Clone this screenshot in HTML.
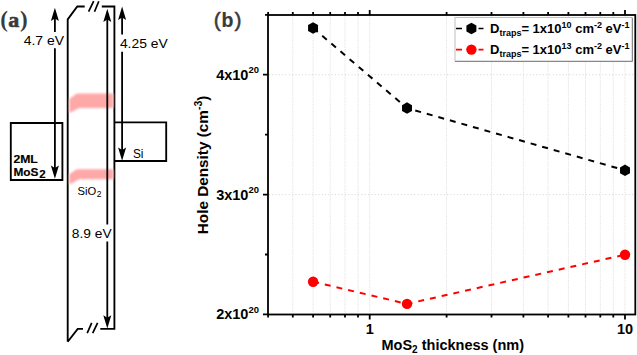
<!DOCTYPE html><html><head><meta charset="utf-8"><style>html,body{margin:0;padding:0;background:#fff;overflow:hidden}svg{display:block}</style></head><body><svg width="637" height="355" viewBox="0 0 637 355"><rect width="637" height="355" fill="#fff"/><path d="M292.8 16V313.5M313.1 16V313.5M330.2 16V313.5M345.0 16V313.5M358.0 16V313.5M369.7 16V313.5M446.6 16V313.5M491.5 16V313.5M523.4 16V313.5M548.1 16V313.5M568.4 16V313.5M585.5 16V313.5M600.3 16V313.5M613.3 16V313.5M625.0 16V313.5" stroke="#e2e2e2" stroke-width="1" stroke-dasharray="1.2 1" fill="none"/><path d="M269 194.6H634.3M269 74.7H634.3" stroke="#d4d4d4" stroke-width="1" stroke-dasharray="1 2.3" fill="none"/><path d="M268.1 314.5v3M268.1 15v-3M292.8 314.5v3M292.8 15v-3M313.1 314.5v3M313.1 15v-3M330.2 314.5v3M330.2 15v-3M345.0 314.5v3M345.0 15v-3M358.0 314.5v3M358.0 15v-3M446.6 314.5v3M446.6 15v-3M491.5 314.5v3M491.5 15v-3M523.4 314.5v3M523.4 15v-3M548.1 314.5v3M548.1 15v-3M568.4 314.5v3M568.4 15v-3M585.5 314.5v3M585.5 15v-3M600.3 314.5v3M600.3 15v-3M613.3 314.5v3M613.3 15v-3M369.7 314.5v5M369.7 15v-5M625.0 314.5v5M625.0 15v-5M268 254.5h-3M268 134.6h-3M268 14.8h-3M268 314.4h-5M635.3 314.4h0M268 194.6h-5M635.3 194.6h0M268 74.7h-5M635.3 74.7h0" stroke="#000" stroke-width="1.8" fill="none"/><rect x="268" y="15" width="367.29999999999995" height="299.5" fill="none" stroke="#000" stroke-width="1.8"/><polyline points="313.1,28 407.0,108.1 625.0,170.3" fill="none" stroke="#000" stroke-width="2" stroke-dasharray="6 6"/><polyline points="313.1,281.7 407.0,303.9 625.0,254.7" fill="none" stroke="#f00" stroke-width="2" stroke-dasharray="6 6"/><polygon points="313.06,22.25 308.08,25.12 308.08,30.88 313.06,33.75 318.04,30.88 318.04,25.12" fill="#000"/><polygon points="407.01,102.35 402.03,105.22 402.03,110.97 407.01,113.85 411.99,110.97 411.99,105.22" fill="#000"/><polygon points="625.00,164.55 620.02,167.43 620.02,173.18 625.00,176.05 629.98,173.18 629.98,167.43" fill="#000"/><circle cx="313.1" cy="281.7" r="5.2" fill="#f00"/><circle cx="407.0" cy="303.9" r="5.2" fill="#f00"/><circle cx="625.0" cy="254.7" r="5.2" fill="#f00"/><rect x="455" y="17.5" width="177" height="43.5" fill="#fff" stroke="#c0c0c0" stroke-width="1"/><path d="M632.5 18V61.5H455" stroke="#888" stroke-width="1" fill="none"/><path d="M456 28.5h6M478.5 28.5h5" stroke="#000" stroke-width="1.7"/><polygon points="471.40,22.75 466.42,25.62 466.42,31.38 471.40,34.25 476.38,31.38 476.38,25.62" fill="#000"/><path d="M456 49.6h6M478.5 49.6h5" stroke="#f00" stroke-width="1.7"/><circle cx="471.4" cy="49.6" r="5.2" fill="#f00"/><text x="490" y="33" font-family="Liberation Sans, sans-serif" font-weight="bold" font-size="13" fill="#000">D<tspan font-size="9" dy="3">traps</tspan><tspan dy="-3">= 1x10</tspan><tspan font-size="9" dy="-5">10</tspan><tspan dy="5"> cm</tspan><tspan font-size="9" dy="-5">-2</tspan><tspan dy="5"> eV</tspan><tspan font-size="9" dy="-5">-1</tspan></text><text x="490" y="53.8" font-family="Liberation Sans, sans-serif" font-weight="bold" font-size="13" fill="#000">D<tspan font-size="9" dy="3">traps</tspan><tspan dy="-3">= 1x10</tspan><tspan font-size="9" dy="-5">13</tspan><tspan dy="5"> cm</tspan><tspan font-size="9" dy="-5">-2</tspan><tspan dy="5"> eV</tspan><tspan font-size="9" dy="-5">-1</tspan></text><text x="259" y="79.7" font-family="Liberation Sans, sans-serif" font-weight="bold" font-size="14.5" text-anchor="end">4x10<tspan font-size="9.5" dy="-6.5">20</tspan></text><text x="259" y="199.55" font-family="Liberation Sans, sans-serif" font-weight="bold" font-size="14.5" text-anchor="end">3x10<tspan font-size="9.5" dy="-6.5">20</tspan></text><text x="259" y="319.4" font-family="Liberation Sans, sans-serif" font-weight="bold" font-size="14.5" text-anchor="end">2x10<tspan font-size="9.5" dy="-6.5">20</tspan></text><text x="369.7" y="334" font-family="Liberation Sans, sans-serif" font-weight="bold" font-size="14.5" text-anchor="middle">1</text><text x="625.0" y="334" font-family="Liberation Sans, sans-serif" font-weight="bold" font-size="14.5" text-anchor="middle">10</text><text x="381.5" y="350.2" font-family="Liberation Sans, sans-serif" font-weight="bold" font-size="14.5">MoS<tspan font-size="10" dy="3">2</tspan><tspan dy="-3"> thickness (nm)</tspan></text><text transform="translate(208 234.2) rotate(-90)" font-family="Liberation Sans, sans-serif" font-weight="bold" font-size="15.3">Hole Density (cm<tspan font-size="10.5" dy="-6">-3</tspan><tspan dy="6">)</tspan></text><text x="213.8" y="26.8" font-family="Liberation Sans, sans-serif" font-size="21" fill="#3a3a3a" stroke="#3a3a3a" stroke-width="0.5">(<tspan font-weight="bold" font-size="19.5" stroke-width="0.2" dx="0.6">b</tspan><tspan dx="1.1">)</tspan></text><text x="0.3" y="27" font-family="Liberation Serif, serif" font-weight="bold" font-size="23" fill="#3a3a3a">(<tspan stroke="#3a3a3a" stroke-width="0.6" font-size="22" dx="0.3">a</tspan><tspan dx="0.8">)</tspan></text><path d="M67.7 341.8V19.4L77.3 6.5H84.7M101.8 6.5H114.4V328.9H100.3M83 328.9H77.7L67.7 341.8" stroke="#000" stroke-width="1.85" fill="none" stroke-linejoin="miter"/><path d="M88.6 11.7L93.7 1.2M94.5 11.7L98.8 1.2M87.2 333.2L91.7 322.8M92.7 333.2L97.6 322.8" stroke="#000" stroke-width="1.7" fill="none"/><path d="M62.4 123H10.8V180H62.4Z" stroke="#000" stroke-width="1.85" fill="none"/><path d="M114.4 122.3H166.2V161H114.4" stroke="#000" stroke-width="1.85" fill="none"/><g filter="url(#blur)" fill="#ffa8a8"><path d="M69.3 99L76.7 93.5H113.3V107.9H79.3L69.3 113Z"/><path d="M69.3 174.3L76.7 169.2H113.3V179.3H79.3L69.3 184.4Z"/></g><defs><filter id="blur" x="-20%" y="-50%" width="140%" height="200%"><feGaussianBlur stdDeviation="1"/></filter><path id="ah" d="M0 0 L-4 13.3 L0 10.8 L4 13.3Z"/></defs><path d="M54.9 16V32.1M54.9 48.2V170" stroke="#000" stroke-width="1.8" fill="none"/><use href="#ah" transform="translate(54.9 7.8)"/><use href="#ah" transform="translate(54.9 178.8) rotate(180)"/><path d="M107.3 17V224.6M107.3 241.5V320" stroke="#000" stroke-width="1.8" fill="none"/><use href="#ah" transform="translate(107.3 8.7)"/><use href="#ah" transform="translate(107.3 328.5) rotate(180)"/><path d="M122.1 15V34.6M122.1 51.7V152" stroke="#000" stroke-width="1.8" fill="none"/><use href="#ah" transform="translate(122.1 6.6)"/><use href="#ah" transform="translate(122.1 160.7) rotate(180)"/><text x="23.7" y="44.8" font-family="Liberation Sans, sans-serif" font-size="12.3" textLength="40.4" lengthAdjust="spacingAndGlyphs" fill="#000" stroke="#000" stroke-width="0">4.7 eV</text><text x="119.9" y="47.6" font-family="Liberation Sans, sans-serif" font-size="12.3" textLength="47.8" lengthAdjust="spacingAndGlyphs" fill="#000" stroke="#000" stroke-width="0">4.25 eV</text><text x="71.8" y="237.6" font-family="Liberation Sans, sans-serif" font-size="12.5" textLength="39.8" lengthAdjust="spacingAndGlyphs" fill="#000" stroke="#000" stroke-width="0">8.9 eV</text><text x="132.9" y="158.2" font-family="Liberation Sans, sans-serif" font-size="12" textLength="10.5" lengthAdjust="spacingAndGlyphs" fill="#000" stroke="#000" stroke-width="0">Si</text><text x="77.6" y="195" font-family="Liberation Sans, sans-serif" font-size="11.5" textLength="18.7" lengthAdjust="spacingAndGlyphs" fill="#000" stroke="#000" stroke-width="0">SiO</text><text x="96.8" y="197.3" font-family="Liberation Sans, sans-serif" font-size="8.5" fill="#000">2</text><text x="13.4" y="162.7" font-family="Liberation Sans, sans-serif" font-size="10.5" font-weight="bold" textLength="24.4" lengthAdjust="spacingAndGlyphs" fill="#000" stroke="#000" stroke-width="0.15">2ML</text><text x="13.4" y="176" font-family="Liberation Sans, sans-serif" font-size="10.5" font-weight="bold" textLength="25" lengthAdjust="spacingAndGlyphs" fill="#000" stroke="#000" stroke-width="0.15">MoS</text><text x="39.3" y="177.7" font-family="Liberation Sans, sans-serif" font-size="10.5" font-weight="bold" textLength="6.4" lengthAdjust="spacingAndGlyphs" fill="#000" stroke="#000" stroke-width="0.15">2</text></svg></body></html>
